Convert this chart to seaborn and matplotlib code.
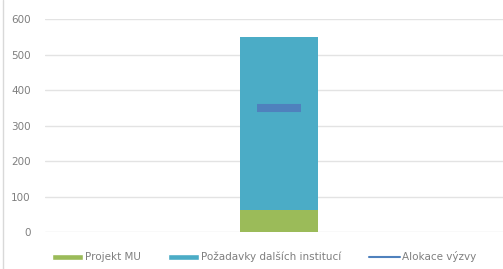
import pandas as pd
import numpy as np
import matplotlib.pyplot as plt
import seaborn as sns
from matplotlib.lines import Line2D
from matplotlib.patches import Patch

# Data
categories = ['']
projekt_mu = [62]
pozadavky = [488]
alokace = [350]

labels = ['Projekt MU', 'Požadavky dalších institucí', 'Alokace výzvy']
colors = ['#9BBB59', '#4BACC6', '#4F81BD']

sns.set_theme(style='white')
plt.rcParams['font.family'] = ['DejaVu Sans']

df = pd.DataFrame({'cat': categories, 'mu': projekt_mu, 'poz': pozadavky})
df['total'] = df['mu'] + df['poz']

fig = plt.figure(figsize=(5.03, 2.69), dpi=100)
ax = fig.add_axes([0.089, 0.1375, 0.911, 0.7915])

# Stacked bar: draw total first, then the bottom part on top
sns.barplot(data=df, x='cat', y='total', color=colors[1], width=0.167,
            saturation=1, linewidth=0, ax=ax, zorder=2)
sns.barplot(data=df, x='cat', y='mu', color=colors[0], width=0.167,
            saturation=1, linewidth=0, ax=ax, zorder=3)

# Allocation line (short horizontal marker)
ax.plot(range(len(categories)), alokace, marker='_', markersize=32,
        markeredgewidth=5.8, color=colors[2], linestyle='none', zorder=4)

ax.set_xlim(-0.5, 0.478)
ax.set_ylim(0, 600)
ax.set_yticks(np.arange(0, 601, 100))
ax.set_xlabel('')
ax.set_ylabel('')
ax.set_xticks([])
ax.grid(axis='y', color='#E3E3E3', linewidth=1, zorder=0)
ax.set_axisbelow(True)
for s in ax.spines.values():
    s.set_visible(False)
ax.tick_params(axis='y', length=0, pad=10, labelsize=7.5, labelcolor='#7F7F7F')

# Frame line on the left edge
fig.add_artist(Line2D([0.006, 0.006], [0, 1], color='#D9D9D9', linewidth=1,
                      transform=fig.transFigure))

handles = [Patch(facecolor=colors[0]), Patch(facecolor=colors[1]),
           Line2D([0], [0], color=colors[2], linewidth=1.5)]
fig.legend(handles, labels, loc='lower center', bbox_to_anchor=(0.525, -0.01),
           ncol=3, frameon=False, fontsize=7.5, labelcolor='#7F7F7F',
           handlelength=3.0, handleheight=0.5, handletextpad=0.2,
           columnspacing=2.6)

fig.savefig('out.png', dpi=100)
